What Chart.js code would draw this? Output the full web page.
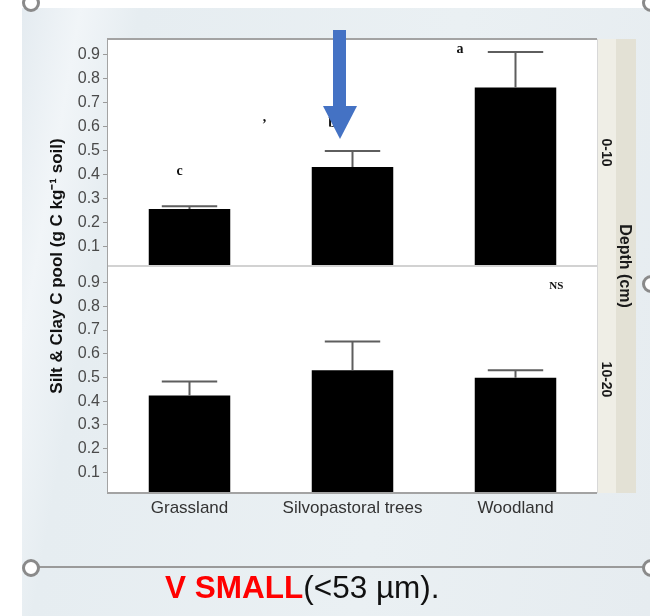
<!DOCTYPE html>
<html>
<head>
<meta charset="utf-8">
<script src="https://cdn.jsdelivr.net/npm/chart.js@4.4.1/dist/chart.umd.min.js"></script>
<style>
  html, body { margin: 0; padding: 0; width: 650px; height: 616px; overflow: hidden; background: #ffffff; }
  #slide { position: absolute; left: 22px; top: 8px; width: 628px; height: 608px;
    background: linear-gradient(100deg, #e4ebf0 0%, #f1f5f8 8%, #e6edf1 16%, #eaf0f3 60%, #e6ecf0 100%); }
  #wrap { position: absolute; left: 0; top: 0; width: 650px; height: 616px; }
  canvas { display: block; }
  .ring { position: absolute; width: 12px; height: 12px; border: 3px solid #8a8a8a; border-radius: 50%; background: #ffffff; }
  #hline { position: absolute; left: 30px; top: 566px; width: 620px; height: 2px; background: #9a9a9a; }
  #caption { position: absolute; left: 165px; top: 572px; font-family: "Liberation Sans", Arial, sans-serif; font-size: 31.5px; line-height: 31px; white-space: nowrap; color: #111; }
  #caption b { color: #ff0000; }
  #arrow { position: absolute; left: 0; top: 0; }
</style>
</head>
<body>
<div id="slide"></div>
<div class="ring" style="left:22px; top:-6px;"></div>
<div class="ring" style="left:642px; top:-6px;"></div>
<div class="ring" style="left:642px; top:275px;"></div>
<div id="hline"></div>
<div class="ring" style="left:22px; top:559px;"></div>
<div class="ring" style="left:642px; top:559px;"></div>
<div id="wrap"><canvas id="c" width="650" height="616"></canvas></div>
<svg id="arrow" width="650" height="616">
  <rect x="333" y="30" width="13" height="77" fill="#4472c4"/>
  <polygon points="323,106 357,106 340,139" fill="#4472c4"/>
</svg>
<div id="caption"><b>V SMALL</b>(&lt;53 µm).</div>
<script>
// ---- data ----
const categories = ['Grassland', 'Silvopastoral trees', 'Woodland'];
const depthLabels = ['0-10', '10-20'];
const depthTitle = 'Depth (cm)';
const yTitle = 'Silt & Clay C pool (g C kg\u207B\u00B9 soil)';
const meanTop = [0.257, 0.431, 0.762];
const upperTop = [0.268, 0.498, 0.909];
const meanBottom = [0.424, 0.530, 0.499];
const upperBottom = [0.483, 0.652, 0.531];
const yTickValues = [0.1, 0.2, 0.3, 0.4, 0.5, 0.6, 0.7, 0.8, 0.9];
const topRange = [0.02, 0.963];
const bottomRange = [0.013, 0.97];
// significance letters: [text, panel, category index, value]
const lettersText = ['c', ',', 'b', 'a', 'NS'];
const lettersPanel = ['yTop', 'yTop', 'yTop', 'yTop', 'yBot'];
const lettersCat = [0, 1, 1, 2, 2];
const lettersValue = [0.413, 0.638, 0.613, 0.918, 0.887];
const lettersShift = [-0.06, -0.54, -0.125, -0.34, 0.25]; // in category widths

const FONT = '"Liberation Sans", Arial, sans-serif';

const panelPlugin = {
  id: 'panels',
  beforeDatasetsDraw(chart) {
    const { ctx, chartArea: a } = chart;
    ctx.save();
    ctx.fillStyle = '#ffffff';
    ctx.fillRect(a.left, a.top, a.right - a.left, a.bottom - a.top);
    ctx.restore();
  },
  afterDatasetsDraw(chart) {
    const { ctx, chartArea: a, scales } = chart;
    // error bars
    const ups = [upperTop, upperBottom];
    chart.data.datasets.forEach((ds, di) => {
      const meta = chart.getDatasetMeta(di);
      const ys = scales[ds.yAxisID];
      meta.data.forEach((bar, i) => {
        const yTopPx = ys.getPixelForValue(ups[di][i]);
        const half = bar.width * 0.34;
        ctx.save();
        ctx.strokeStyle = '#5e5e5e';
        ctx.lineWidth = 2;
        ctx.beginPath();
        ctx.moveTo(bar.x, bar.y);
        ctx.lineTo(bar.x, yTopPx);
        ctx.moveTo(bar.x - half, yTopPx);
        ctx.lineTo(bar.x + half, yTopPx);
        ctx.stroke();
        ctx.restore();
      });
    });
    // letters
    const xs = scales.x;
    const catW = (xs.right - xs.left) / categories.length;
    lettersText.forEach((t, k) => {
      const ys = scales[lettersPanel[k]];
      const x = xs.getPixelForValue(lettersCat[k]) + lettersShift[k] * catW;
      const y = ys.getPixelForValue(lettersValue[k]);
      ctx.save();
      ctx.fillStyle = '#111';
      ctx.font = (t === 'NS' ? 'bold 11px ' : 'bold 14px ') + '"Liberation Serif", "Times New Roman", serif';
      ctx.textAlign = 'center';
      ctx.textBaseline = 'middle';
      ctx.fillText(t, x, y);
      ctx.restore();
    });
    // panel borders
    const yt = scales.yTop, yb = scales.yBot;
    ctx.save();
    ctx.lineWidth = 2;
    ctx.strokeStyle = '#a3a3a3';
    ctx.beginPath();
    ctx.moveTo(a.left, yt.top); ctx.lineTo(a.right, yt.top);
    ctx.stroke();
    ctx.strokeStyle = '#d2d2d2';
    ctx.beginPath();
    ctx.moveTo(a.left, yt.bottom); ctx.lineTo(a.right, yt.bottom);
    ctx.stroke();
    ctx.strokeStyle = '#a3a3a3';
    ctx.beginPath();
    ctx.moveTo(a.left, yb.bottom); ctx.lineTo(a.right, yb.bottom);
    ctx.stroke();
    ctx.strokeStyle = '#d8d8d8';
    ctx.lineWidth = 1;
    ctx.beginPath();
    ctx.moveTo(a.right + 0.5, a.top); ctx.lineTo(a.right + 0.5, a.bottom);
    ctx.stroke();
    ctx.restore();
    // strips
    const x0 = a.right + 1;
    ctx.save();
    ctx.fillStyle = '#efeee6';
    ctx.fillRect(x0, a.top, 18, a.bottom - a.top);
    ctx.fillStyle = '#e3e1d5';
    ctx.fillRect(x0 + 18, a.top, 20, a.bottom - a.top);
    ctx.fillStyle = '#1a1a1a';
    ctx.font = 'bold 14px ' + FONT;
    ctx.textAlign = 'center';
    ctx.textBaseline = 'middle';
    [yt, yb].forEach((s, k) => {
      ctx.save();
      ctx.translate(x0 + 8, (s.top + s.bottom) / 2);
      ctx.rotate(Math.PI / 2);
      ctx.fillText(depthLabels[k], 0, 0);
      ctx.restore();
    });
    ctx.font = 'bold 16px ' + FONT;
    ctx.save();
    ctx.translate(x0 + 26, (a.top + a.bottom) / 2);
    ctx.rotate(Math.PI / 2);
    ctx.fillText(depthTitle, 0, 0);
    ctx.restore();
    ctx.restore();
    // y title
    ctx.save();
    ctx.fillStyle = '#111';
    ctx.font = 'bold 17px ' + FONT;
    ctx.textAlign = 'center';
    ctx.textBaseline = 'middle';
    ctx.translate(57, (a.top + a.bottom) / 2);
    ctx.rotate(-Math.PI / 2);
    ctx.fillText(yTitle, 0, 0);
    ctx.restore();
  }
};

function yScale(range, weightOrder) {
  return {
    type: 'linear',
    position: 'left',
    stack: 'depth',
    stackWeight: 1,
    weight: weightOrder,
    min: range[0],
    max: range[1],
    afterBuildTicks: (s) => { s.ticks = yTickValues.map(v => ({ value: v })); },
    afterFit: (s) => { s.width = 108; },
    border: { display: true, color: '#a3a3a3', width: 2 },
    grid: { drawOnChartArea: false, drawTicks: true, tickLength: 5, color: '#9a9a9a', tickWidth: 1 },
    ticks: {
      autoSkip: false,
      color: '#4a4a4a', padding: 3,
      font: { family: FONT, size: 16 },
      callback: (v) => v.toFixed(1)
    }
  };
}

new Chart(document.getElementById('c'), {
  type: 'bar',
  data: {
    labels: categories,
    datasets: [
      { label: depthLabels[0], data: meanTop, yAxisID: 'yTop', base: topRange[0], backgroundColor: '#000000' },
      { label: depthLabels[1], data: meanBottom, yAxisID: 'yBot', base: bottomRange[0], backgroundColor: '#000000' }
    ]
  },
  options: {
    responsive: false,
    animation: false,
    devicePixelRatio: 1,
    grouped: false,
    barPercentage: 0.5,
    categoryPercentage: 1.0,
    layout: { padding: { top: 39, right: 53, bottom: 83, left: 0 } },
    plugins: { legend: { display: false }, tooltip: { enabled: false } },
    scales: {
      x: {
        type: 'category',
        offset: true,
        afterFit: (s) => { s.height = 40; },
        border: { display: false },
        grid: { display: false, drawTicks: false },
        ticks: { color: '#333333', padding: 5, font: { family: FONT, size: 17 } }
      },
      yTop: yScale(topRange, 2),
      yBot: yScale(bottomRange, 1)
    }
  },
  plugins: [panelPlugin]
});
</script>
</body>
</html>
